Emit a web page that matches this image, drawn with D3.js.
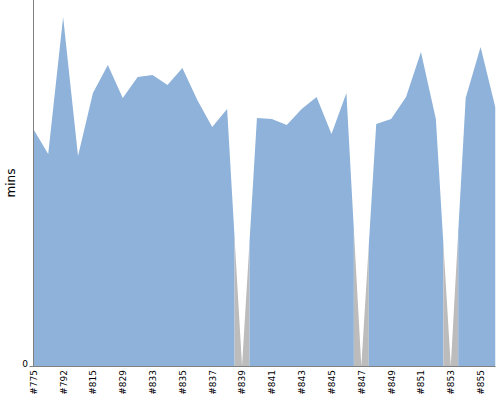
<!DOCTYPE html>
<html>
<head>
<meta charset="utf-8">
<script src="https://cdn.jsdelivr.net/npm/d3@7/dist/d3.min.js"></script>
<style>
  html, body { margin: 0; padding: 0; background: #fff; }
  svg { display: block; }
  text { font-family: "DejaVu Sans", sans-serif; }
</style>
</head>
<body>
<svg id="chart" width="500" height="400"></svg>
<script>
// ---- data ----
const builds = ["#775","#780","#792","#801","#815","#822","#829","#831","#833","#834","#835","#836","#837","#838","#839","#840",
                "#841","#842","#843","#844","#845","#846","#847","#848","#849","#850","#851","#852","#853","#854","#855","#856"];
const durations = [23.7,21.2,34.9,21.0,27.3,30.1,26.8,28.9,29.1,28.1,29.8,26.6,23.9,25.7,0,24.8,
                   24.7,24.1,25.7,26.9,23.2,27.3,0,24.2,24.7,26.9,31.4,24.7,0,26.8,31.9,25.8];
const results = ["SUCCESS","SUCCESS","SUCCESS","SUCCESS","SUCCESS","SUCCESS","SUCCESS","SUCCESS","SUCCESS","SUCCESS","SUCCESS","SUCCESS","SUCCESS","SUCCESS","ABORTED","SUCCESS",
                 "SUCCESS","SUCCESS","SUCCESS","SUCCESS","SUCCESS","SUCCESS","ABORTED","SUCCESS","SUCCESS","SUCCESS","SUCCESS","SUCCESS","ABORTED","SUCCESS","SUCCESS","SUCCESS"];
const tickLabels = builds.filter((d, i) => i % 2 === 0);
const yTicks = [0];
const yTitle = "mins";
const resultColors = { SUCCESS: "#8eb2d9", ABORTED: "#bcbcbc" };

// ---- layout ----
const plotLeft = 33.3, plotRight = 495.5, plotTop = 0, plotBottom = 366;
const svg = d3.select("#chart");

const x = d3.scalePoint().domain(builds).range([plotLeft, plotRight]).padding(0);
const y = d3.scaleLinear().domain([0, 36.6]).range([plotBottom, plotTop]);
const step = x.step();

svg.append("clipPath").attr("id", "plotclip")
  .append("rect").attr("x", plotLeft).attr("y", plotTop)
  .attr("width", plotRight - plotLeft).attr("height", plotBottom - plotTop);

// group consecutive builds with the same result into runs
const runs = [];
builds.forEach((b, i) => {
  const last = runs[runs.length - 1];
  if (last && last.result === results[i]) last.end = i;
  else runs.push({ result: results[i], start: i, end: i });
});

const n = builds.length;
function runPath(r) {
  const a = r.start, b = r.end;
  const xl = Math.max(x(builds[a]) - step / 2, plotLeft);
  const vl = a > 0 ? (durations[a - 1] + durations[a]) / 2 : durations[a];
  const xr = Math.min(x(builds[b]) + step / 2, plotRight);
  const vr = b < n - 1 ? (durations[b] + durations[b + 1]) / 2 : durations[b];
  const p = d3.path();
  p.moveTo(xl, y(0));
  p.lineTo(xl, y(vl));
  for (let i = a; i <= b; i++) p.lineTo(x(builds[i]), y(durations[i]));
  p.lineTo(xr, y(vr));
  p.lineTo(xr, y(0));
  p.closePath();
  return p.toString();
}

svg.append("g").attr("clip-path", "url(#plotclip)")
  .selectAll("path").data(runs).join("path")
  .attr("d", runPath)
  .attr("fill", d => resultColors[d.result]);

// ---- axes ----
const axisColor = "#808080";
// y axis
svg.append("line").attr("x1", 33.5).attr("x2", 33.5).attr("y1", plotTop).attr("y2", plotBottom + 0.5)
  .attr("stroke", axisColor).attr("stroke-width", 1);
const yt = svg.append("g").selectAll("g").data(yTicks).join("g");
yt.append("line").attr("x1", 29.5).attr("x2", 33.5)
  .attr("y1", d => Math.round(y(d)) + 0.5).attr("y2", d => Math.round(y(d)) + 0.5)
  .attr("stroke", axisColor);
yt.append("text").attr("x", 28).attr("y", d => y(d) + 1)
  .attr("text-anchor", "end").attr("font-size", 9).attr("fill", "#000")
  .text(d => d);
svg.append("text").attr("transform", `translate(15,${(plotTop + plotBottom) / 2}) rotate(-90)`)
  .attr("text-anchor", "middle").attr("font-size", 12).attr("fill", "#000").text(yTitle);

// x axis
svg.append("line").attr("x1", 33).attr("x2", plotRight).attr("y1", plotBottom + 0.5).attr("y2", plotBottom + 0.5)
  .attr("stroke", axisColor).attr("stroke-width", 1);
svg.append("g").selectAll("text").data(tickLabels).join("text")
  .attr("transform", d => `translate(${x(d) + 3.4},370) rotate(-90)`)
  .attr("text-anchor", "end").attr("font-size", 9).attr("fill", "#000")
  .text(d => d);
</script>
</body>
</html>
